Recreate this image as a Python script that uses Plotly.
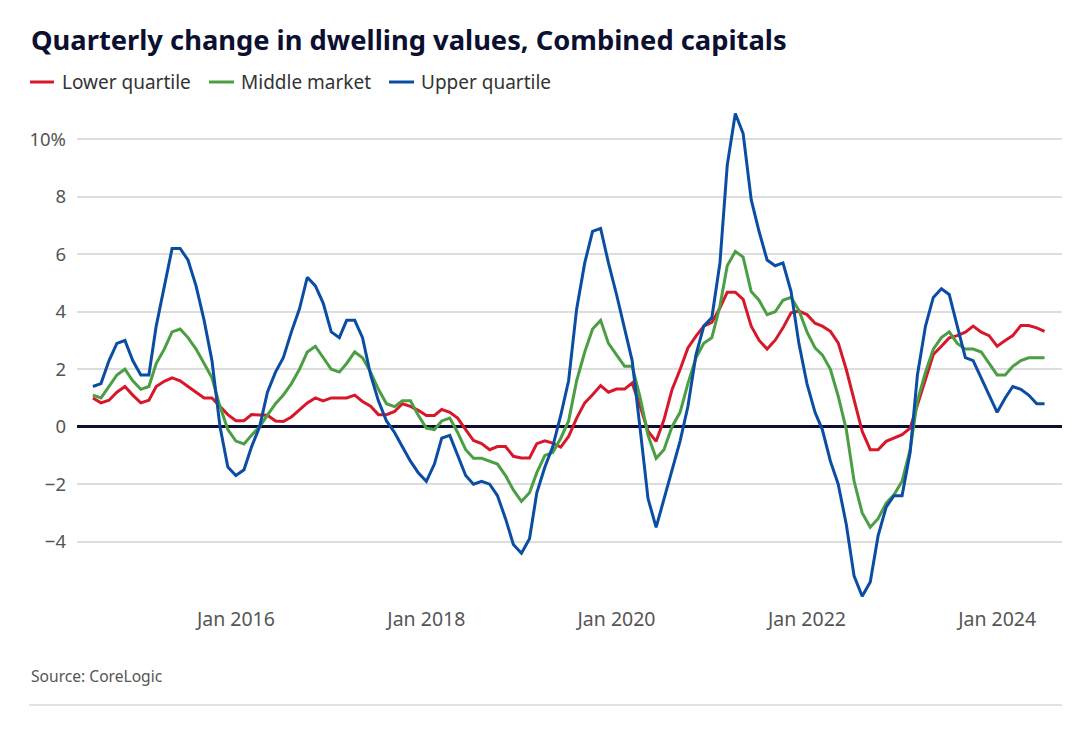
import pandas as pd
import plotly.graph_objects as go

# Monthly observations, Jul 2014 - Jul 2024
months = pd.date_range("2014-07-01", "2024-07-01", freq="MS")

lower_quartile = [
    1.0, 0.83, 0.92, 1.2, 1.4, 1.1,
    0.83, 0.92, 1.4, 1.58, 1.7, 1.6, 1.4, 1.2, 1.0, 1.0, 0.7, 0.42,
    0.21, 0.21, 0.42, 0.42, 0.4, 0.2, 0.18, 0.34, 0.59, 0.83, 1.0, 0.9,
    1.0, 1.0, 1.0, 1.1, 0.88, 0.71, 0.42, 0.42, 0.53, 0.8, 0.71, 0.57,
    0.39, 0.39, 0.6, 0.5, 0.3, -0.1, -0.48, -0.59, -0.8, -0.69, -0.69, -1.03,
    -1.09, -1.09, -0.59, -0.49, -0.57, -0.71, -0.34, 0.3, 0.83, 1.11, 1.43, 1.2,
    1.31, 1.31, 1.52, 0.7, -0.16, -0.51, 0.24, 1.29, 1.99, 2.74, 3.15, 3.5,
    3.63, 4.13, 4.68, 4.68, 4.43, 3.5, 3.01, 2.7, 3.01, 3.44, 3.96, 4.02,
    3.9, 3.6, 3.5, 3.32, 2.92, 1.99, 0.94, -0.16, -0.8, -0.8, -0.51, -0.39,
    -0.28, -0.05, 0.77, 1.7, 2.51, 2.8, 3.09, 3.17, 3.29, 3.5, 3.29, 3.17,
    2.8, 3.0, 3.17, 3.52, 3.52, 3.44, 3.32,
]

middle_market = [
    1.1, 1.0, 1.4, 1.8, 2.0, 1.6,
    1.3, 1.4, 2.2, 2.7, 3.3, 3.4, 3.1, 2.7, 2.2, 1.7, 0.7, -0.1,
    -0.5, -0.6, -0.3, 0.0, 0.4, 0.8, 1.1, 1.5, 2.0, 2.6, 2.8, 2.4,
    2.0, 1.9, 2.2, 2.6, 2.4, 1.9, 1.3, 0.8, 0.7, 0.9, 0.9, 0.4,
    -0.05, -0.1, 0.2, 0.3, -0.2, -0.8, -1.1, -1.1, -1.2, -1.3, -1.7, -2.2,
    -2.6, -2.3, -1.6, -1.0, -0.9, -0.4, 0.2, 1.6, 2.6, 3.4, 3.7, 2.9,
    2.5, 2.1, 2.1, 1.0, -0.3, -1.1, -0.8, 0.0, 0.5, 1.5, 2.4, 2.9,
    3.1, 4.2, 5.6, 6.1, 5.9, 4.7, 4.4, 3.9, 4.0, 4.4, 4.5, 4.05,
    3.3, 2.74, 2.5, 2.0, 1.06, -0.1, -1.9, -3.0, -3.5, -3.2, -2.66, -2.37,
    -1.9, -0.8, 0.9, 1.9, 2.7, 3.1, 3.3, 2.9, 2.7, 2.7, 2.6, 2.2,
    1.8, 1.8, 2.1, 2.3, 2.4, 2.4, 2.4,
]

upper_quartile = [
    1.4, 1.5, 2.3, 2.9, 3.0, 2.3,
    1.8, 1.8, 3.5, 4.9, 6.2, 6.2, 5.8, 4.9, 3.7, 2.3, 0.0, -1.4,
    -1.7, -1.5, -0.7, 0.0, 1.2, 1.9, 2.4, 3.3, 4.1, 5.2, 4.9, 4.3,
    3.3, 3.1, 3.7, 3.7, 3.1, 1.8, 0.9, 0.2, -0.2, -0.7, -1.2, -1.6,
    -1.9, -1.3, -0.4, -0.3, -1.0, -1.7, -2.0, -1.9, -2.0, -2.4, -3.2, -4.1,
    -4.4, -3.9, -2.3, -1.4, -0.7, 0.4, 1.6, 4.1, 5.7, 6.8, 6.9, 5.7,
    4.6, 3.4, 2.3, -0.1, -2.5, -3.5, -2.5, -1.5, -0.5, 0.7, 2.5, 3.5,
    3.8, 5.7, 9.1, 10.9, 10.2, 7.9, 6.8, 5.8, 5.6, 5.7, 4.7, 2.9,
    1.5, 0.5, -0.1, -1.2, -2.0, -3.4, -5.2, -5.9, -5.4, -3.8, -2.8, -2.4,
    -2.4, -0.9, 1.8, 3.5, 4.5, 4.8, 4.6, 3.5, 2.4, 2.3, 1.7, 1.1,
    0.5, 1.0, 1.4, 1.3, 1.1, 0.8, 0.8,
]

series_names = ["Lower quartile", "Middle market", "Upper quartile"]
series_colors = ["#d7182a", "#4b9e43", "#0a4da2"]
series_values = [lower_quartile, middle_market, upper_quartile]

y_tick_vals = [-4, -2, 0, 2, 4, 6, 8, 10]
y_tick_text = ["\u22124", "\u22122", "0", "2", "4", "6", "8", "10%"]
x_tick_vals = ["2016-01-01", "2018-01-01", "2020-01-01", "2022-01-01", "2024-01-01"]
x_tick_text = ["Jan 2016", "Jan 2018", "Jan 2020", "Jan 2022", "Jan 2024"]

FONT = "Noto Sans"

fig = go.Figure()
for name, color, vals in zip(series_names, series_colors, series_values):
    fig.add_trace(go.Scatter(
        x=months, y=vals, mode="lines", name=name,
        line=dict(color=color, width=3), showlegend=False,
    ))

OFF = 8  # page body margin
W, H = 1080, 734
L = 77 - OFF
T = 110 - OFF
R = W - (1062 - OFF)
B = H - (600 - OFF)
pw = W - L - R
ph = H - T - B

def px_x(px):
    return (px - OFF - L) / pw

def px_y(py):
    return 1 - (py - OFF - T) / ph

shapes = []
annotations = []

# Manual legend
legend_items = [(30, 54, 60), (209, 234, 239), (389, 414, 419)]
for (x0, x1, tx), name, color in zip(legend_items, series_names, series_colors):
    shapes.append(dict(type="line", xref="paper", yref="paper",
                       x0=px_x(x0), x1=px_x(x1), y0=px_y(82), y1=px_y(82),
                       line=dict(color=color, width=3)))
    annotations.append(dict(text=name, xref="paper", yref="paper",
                            x=px_x(tx), y=px_y(82), xanchor="left", yanchor="middle",
                            showarrow=False, font=dict(family=FONT, size=19, color="#333333")))

# Title
annotations.append(dict(text="<b>Quarterly change in dwelling values, Combined capitals</b>",
                        xref="paper", yref="paper", x=px_x(29), y=px_y(39),
                        xanchor="left", yanchor="middle", showarrow=False,
                        font=dict(family=FONT, size=27.3, color="#0b1030")))
# Source
annotations.append(dict(text="Source: CoreLogic", xref="paper", yref="paper",
                        x=px_x(29), y=px_y(676), xanchor="left", yanchor="middle",
                        showarrow=False, font=dict(family=FONT, size=15.6, color="#555555")))
# Bottom rule
shapes.append(dict(type="line", xref="paper", yref="paper",
                   x0=px_x(29), x1=px_x(1062), y0=px_y(705), y1=px_y(705),
                   line=dict(color="#d9d9d9", width=1.5)))

fig.update_layout(
    width=W, height=H,
    margin=dict(l=L, r=R, t=T, b=B),
    paper_bgcolor="white", plot_bgcolor="white",
    font=dict(family=FONT, color="#555555"),
    shapes=shapes, annotations=annotations,
    showlegend=False,
)
fig.update_xaxes(
    range=["2014-05-01", "2024-09-06"],
    tickvals=x_tick_vals, ticktext=x_tick_text,
    showgrid=False, showline=False, ticks="",
    tickfont=dict(family=FONT, size=19.5, color="#555555"),
    ticklabelstandoff=5,
)
fig.update_yaxes(
    range=[-6.03, 11.02],
    tickvals=y_tick_vals, ticktext=y_tick_text,
    showgrid=True, gridcolor="#dddddd", gridwidth=1.5,
    zeroline=True, zerolinecolor="#0b1030", zerolinewidth=3,
    showline=False, ticks="",
    tickfont=dict(family=FONT, size=18.5, color="#555555"),
    ticklabelstandoff=10,
)

fig.write_html("out.html")
